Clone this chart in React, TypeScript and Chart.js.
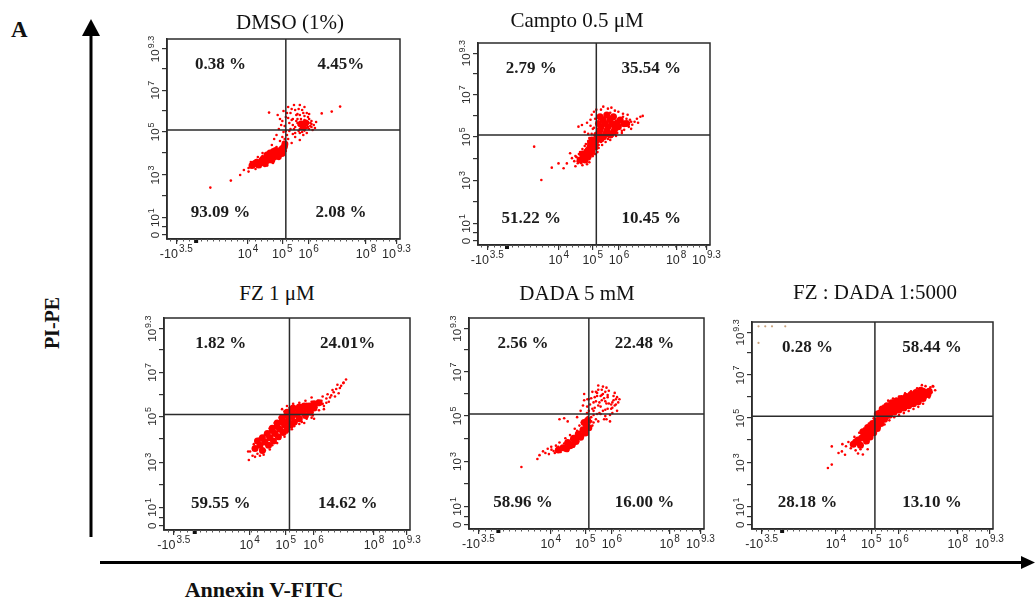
import React, { useEffect, useRef } from "react";
import { Chart, registerables } from "chart.js";
Chart.register(...registerables);

type Pt = [number, number];

// Axis ticks, in display channel units (0–100 across each plot box)
const xTickValues = [4, 34.8, 49.5, 60.8, 85.4, 98.5];
const xTickLabels = ["-10^3.5", "10^4", "10^5", "10^6", "10^8", "10^9.3"];
const yTickValues = [2, 10.7, 32, 53.6, 74.4, 95];
const yTickLabels = ["0", "10^1", "10^3", "10^5", "10^7", "10^9.3"];
const yMinorTickValues = [6, 21.5, 43, 64, 85];
const gateX = 51;
const gateY = 54.5;

const panelTitles = ["DMSO (1%)", "Campto 0.5 μM", "FZ 1 μM", "DADA 5 mM", "FZ : DADA 1:5000"];

// Quadrant percentages: upper-left, upper-right, lower-left, lower-right
const dmsoPercents = ["0.38 %", "4.45%", "93.09 %", "2.08 %"];
const camptoPercents = ["2.79 %", "35.54 %", "51.22 %", "10.45 %"];
const fzPercents = ["1.82 %", "24.01%", "59.55 %", "14.62 %"];
const dadaPercents = ["2.56 %", "22.48 %", "58.96 %", "16.00 %"];
const comboPercents = ["0.28 %", "58.44 %", "28.18 %", "13.10 %"];

// Events (Annexin V-FITC channel, PI-PE channel); "core" = densest part of each cloud
const dmsoCore: Pt[] = [
  [37.8, 37.8], [39.3, 37], [40.7, 39.2], [42.1, 37.8], [43.6, 40.8], [45, 39.5], [46.4, 42.5], [47.8, 41.2],
  [48.6, 44.2], [49.3, 42.8], [50.4, 46.2], [42.9, 42], [45.7, 43.7], [36.5, 36.8], [41.5, 38.5], [44.2, 41.5],
  [47.2, 43], [49.8, 44.8], [38.5, 38.4], [40, 38], [41.2, 40], [42.8, 39.3], [44.3, 39.8], [45.8, 41.8],
  [47, 41.9], [48, 43.2], [49.5, 45.3], [46.6, 44.3], [44.2, 43], [50.6, 47.5],
  [57.5, 57.5], [59.5, 58], [58.5, 56],
];
const dmsoEvents: Pt[] = [
  [18.6, 25.7], [27.4, 29.2], [31.4, 32], [35, 33.7], [36, 36], [35, 35.5], [37, 38.5], [38.5, 39.5], [41, 41.5],
  [42, 36.5], [44, 38.5], [46.5, 40], [45, 47], [46, 50], [47, 46], [47, 52], [48.5, 49], [49.5, 51], [50, 48.5],
  [50.5, 50], [51.5, 52], [50, 53.5], [52, 50], [53.5, 48], [55, 51], [57, 49.5], [58.5, 52], [54, 52.5],
  [47.5, 62], [48.5, 60], [49, 57], [50, 64], [51, 61], [52, 66], [52.5, 58], [53, 63], [54, 60], [54.5, 67],
  [55, 56], [55.5, 62], [56, 58], [56.5, 65], [57, 55], [57.5, 60], [58, 57], [58.5, 63], [59, 55.5], [59.5, 59],
  [60, 57], [60.5, 61], [61, 55], [61.5, 58], [62, 56], [62.5, 54.5], [63, 57], [57, 67], [59, 66], [53, 55],
  [51, 54], [48, 55], [55, 53], [58, 53.5], [60, 53], [56, 60], [54, 57], [57, 62], [59, 61.5], [61, 60],
  [58, 58.5], [59.5, 57], [60.5, 58.5], [57.5, 56.5], [59, 59.5], [61.5, 56.5], [56.5, 57], [60, 55.5],
  [43.8, 63.2], [66.4, 62.8], [70.7, 63.7], [74.3, 66.2],
  [49.5, 59], [50.5, 56.5], [52, 60.5], [53.5, 65], [55, 64.5], [56, 62.5], [58, 64.5], [60, 63], [62, 59],
  [63.5, 55.5], [64, 58.5], [61, 62.5], [52.5, 54], [54.5, 55], [56.5, 54], [58.5, 55.5], [55.5, 59], [53.5, 59.5],
  [51.5, 63], [57.5, 58.5], [60.5, 56], [62, 57.5], [59, 54.2], [57, 53], [38, 35], [40, 36], [43, 36.8],
  [45.5, 38], [48, 40], [50, 42], [51, 44], [39, 41], [41, 43], [36, 38.5], [33, 34.5],
];

const camptoCore: Pt[] = [
  [52.6, 63.5], [55.5, 64.4], [58.4, 63.5], [61.3, 61.9], [64.1, 60.2], [51.9, 60.2], [54.8, 60.2], [57.7, 59.9],
  [60.5, 58.6], [52.6, 56.9], [55.5, 56.6], [58.4, 56.1], [51.2, 54.5], [54.1, 53.6], [51.2, 52], [49.1, 52],
  [48.3, 48.7], [49.8, 48.7], [46.9, 46.2], [49.1, 46.2], [45.5, 43.7], [47.6, 44.1], [44, 42.1], [46.2, 42.1],
  [50.5, 50.3], [54, 62], [57, 62], [60, 60.5], [63, 60], [53, 58.5], [56, 58.5], [59, 57.5], [52, 55], [55, 55],
  [57, 54.5], [53, 52.5], [50, 50], [48.5, 50.5], [47.5, 47], [46, 44.5], [45, 45], [48, 45.5], [50.5, 48.5],
];
const camptoEvents: Pt[] = [
  [24.2, 48.7], [27.3, 32.2], [31.8, 38.3], [34.7, 40.4], [36.9, 38], [38.3, 40.4], [39.7, 45.4], [43.3, 58.6],
  [44.8, 59.4], [65.5, 62], [66.5, 59.5], [67.5, 61], [68.5, 62.5], [70, 63.5], [71, 63.9], [66, 57.5], [63, 57],
  [69, 60.5], [50, 66], [53, 67], [56, 67.5], [59, 66.5], [48.5, 62], [47, 60.5], [46, 56], [47.5, 55],
  [49.5, 57.5], [56, 52.5], [58, 54], [60, 55.5], [62, 56.5], [53, 51], [52, 49.5], [50.5, 45], [48, 41],
  [43, 40.5], [41.5, 41.5], [45, 39.5], [42.5, 43.5], [44, 46], [46, 49], [47.5, 51.5], [62.5, 63.5], [64, 62.5],
  [57, 65.5], [50.5, 62.5], [53.5, 61], [63, 59], [40.5, 43], [42, 39],
  [49, 64.5], [51, 67], [54, 68.5], [57.5, 68], [60.5, 66], [62.5, 65], [64.5, 64.5], [66, 61], [65, 58.5],
  [62, 55.5], [59.5, 54], [57, 52], [55, 51], [53.5, 49.5], [52, 48], [51.5, 46], [49.5, 44], [48, 42.5],
  [47, 40], [44.5, 40.5], [43, 41.5], [42, 44], [43.5, 45], [45, 47.5], [46.5, 50], [48, 53], [49, 55], [50, 58],
  [48.5, 59],
];

const fzCore: Pt[] = [
  [37, 38.5], [39, 40], [40, 37.5], [41, 41.5], [42.5, 40], [43, 43.5], [44.5, 42], [45, 45.5], [46.5, 44],
  [47, 47.5], [48.5, 46], [49, 49.5], [50, 47.5], [50.5, 51.5], [51.5, 49.5], [52, 53.5], [53, 51], [54, 54.5],
  [55, 52.5], [56, 55.5], [57.5, 54], [58, 57], [59.5, 55.5], [61, 57.5], [48, 51], [46, 49], [44, 47], [52, 56],
  [50, 54], [54.5, 57], [38, 42], [40, 43.5], [42, 45.5], [44, 48], [46, 50.5], [48, 53], [50, 55.5],
  [52.5, 57.5], [55, 58], [57, 58.5], [59, 58.5], [61, 59.5], [63, 60],
];
const fzEvents: Pt[] = [
  [63, 59], [64, 61], [65, 58.5], [66, 62], [67, 60.5], [68, 63.5], [69, 65], [70, 66.5], [71, 64.5], [72, 68],
  [73, 69.5], [74, 71], [70.5, 68.5], [68.5, 66], [66.5, 64], [64.5, 63], [62.5, 61], [60, 60.5], [58, 59.5],
  [56, 58.5], [53, 58], [51, 57.5], [49, 56], [47, 53], [45, 50.5], [43, 48], [41, 45], [38.5, 43], [36.5, 40.5],
  [35, 37], [34.5, 33], [36, 35], [38, 36], [40.5, 35.5], [43, 38], [46, 41], [49, 44], [52, 47.5], [55, 50],
  [58, 52.5], [60.5, 54], [63, 56.5], [61, 52.5], [65, 57], [57, 50.5], [34.2, 37], [72.9, 69.3], [71.5, 67],
  [69.5, 63], [67.5, 62.5],
  [48, 57], [50, 58.5], [52.5, 59.5], [55, 60], [57.5, 61], [60, 62.5], [62, 58], [64.5, 59.5], [66, 60], [60, 53],
  [56, 51], [53, 49], [50, 46], [47, 43], [44, 40], [41, 37.5], [39, 35], [37, 34.5], [42, 44], [40, 42],
];

const dadaCore: Pt[] = [
  [40, 38.5], [42, 41], [43, 39.5], [44.5, 43], [45.5, 41.5], [46.5, 45], [47.5, 43.5], [48.5, 47], [49.5, 45.5],
  [50, 49], [51, 48], [38, 37.5], [41.5, 38], [44, 40], [50.5, 51.5], [49, 50.5],
];
const dadaEvents: Pt[] = [
  [22.3, 29.4], [29.1, 33.2], [31.5, 36.8], [35.1, 37.6], [30, 35], [32.5, 36], [34, 35.5], [36, 37], [37, 39.5],
  [39, 36.5], [41, 43], [43, 44.5], [45, 47.5], [47, 49], [46, 46.5], [48, 50.5], [42, 37], [44.5, 39], [46.5, 41.5],
  [48.5, 44], [49.5, 46.5], [50.5, 47], [51.5, 50.5], [52.5, 49], [40.5, 40.5], [38.5, 41], [35, 39], [43, 41.5],
  [33.5, 38], [38.5, 52], [40.5, 52.5], [42, 51], [46, 53], [47.5, 56], [48.5, 58.5], [49, 61], [49, 64],
  [50.5, 53], [51, 56], [51.5, 59], [52, 62], [52.5, 65], [53, 54], [53.5, 57.5], [54, 60.5], [54.5, 63], [55, 66],
  [55.5, 55], [56, 58], [56.5, 61], [57, 64], [57.5, 52], [58, 56.5], [58.5, 59.5], [59, 62.5], [59.5, 65.5],
  [60, 54], [60.5, 57], [61, 60], [61.5, 63], [62, 58.5], [62.5, 61.5], [63, 56], [63.5, 60], [57, 67.5], [55, 68],
  [53, 50.5], [55, 51], [60, 51], [58, 53.5], [56, 54.5], [54, 52], [52.5, 57], [57.5, 62], [59.5, 59.5], [61, 55],
  [55.5, 60], [53.5, 62.5], [64, 61.5], [58, 65], [56.5, 63.5], [54.5, 64.5], [58.5, 67],
  [51, 61.5], [52, 53], [53, 60], [54, 65], [55, 58.5], [56, 63], [56.5, 66], [58, 60.5], [59, 63.5], [60.5, 59],
  [61.5, 61], [62, 64.5], [63, 62.5], [59, 57], [57, 56], [54.5, 54.5], [52, 51], [50.2, 55], [50.3, 58],
  [50.4, 61.5], [53, 56], [58.5, 52], [61, 57.5], [62.5, 59], [36.5, 36], [38, 39], [39.5, 38], [41, 39.5],
  [43.5, 42.5], [45, 44], [47, 46], [49, 48], [51, 49], [42.5, 40], [44, 42], [46, 43], [48, 45],
];

const comboCore: Pt[] = [
  [42, 41], [44, 43], [45, 40.5], [46.5, 45], [47.5, 42.5], [48.5, 47], [49, 44.5], [50, 49.5], [50.5, 46.5],
  [51.5, 52], [52, 48.5], [53, 54], [53.5, 51], [54.5, 56], [55, 53], [56.5, 57.5], [57, 55], [58.5, 59], [59, 56.5],
  [60.5, 60], [61, 57.5], [62.5, 61], [63, 58.5], [64.5, 62], [65, 59.5], [66.5, 63], [67, 60.5], [68.5, 64],
  [69, 61.5], [70.5, 65], [71, 63], [72.5, 66], [56, 59.5], [54, 58], [52, 55.5], [58, 61], [60, 62], [62, 63],
  [64, 64], [66, 65], [68, 66], [70, 67], [73, 65], [48, 49], [50, 51], [46, 47],
  [43, 42], [45.5, 44], [47.5, 46], [49.5, 48], [51.5, 50], [53.5, 52.5], [55.5, 54.5], [57.5, 56.5], [59.5, 58.5],
  [61.5, 59.5], [63.5, 60.5], [65.5, 61.5], [67.5, 62.5], [69.5, 63.5], [71.5, 64.5], [73.5, 66.5], [55, 57],
  [57, 59], [59, 60.5], [61, 61.5], [63, 62.5], [65, 63.5], [67, 64.5], [69, 65.5], [71, 66.5],
];
const comboEvents: Pt[] = [
  [74, 68.5], [75, 69], [74.5, 66], [72, 69], [73.5, 63.5], [76, 67], [71, 60.5], [69, 59], [67, 58], [65, 57],
  [63, 56], [61, 55], [59, 54], [57, 52.5], [55, 50.5], [53, 49], [51, 46.5], [49, 44], [47, 41.5], [45, 38.5],
  [43, 38], [41, 39], [40, 42], [42.5, 44.5], [44.5, 46.5], [46.5, 48.5], [48.5, 51], [50.5, 53.5], [52.5, 57],
  [54.5, 59.5], [56.5, 62], [58.5, 63], [61, 64], [63.5, 65.5], [66, 66.5], [68.5, 68], [70.5, 69.5], [44, 36.5],
  [46, 36], [48, 38.5], [39, 40], [37.5, 41], [33.1, 39.9], [37.3, 37.5], [38.6, 35.9], [31.5, 29.5], [33.1, 31.1],
  [35.9, 36.7], [75.2, 68.9],
];
const comboDebris: Pt[] = [[2.7, 97.9], [5.5, 97.9], [8.3, 97.9], [13.8, 97.9], [2.7, 89.9]];

// ---------- layout (pixels) ----------
const PAD_L = 32;
const PAD_T = 10;
const PAD_R = 24;
const PAD_B = 30;
const TICK = 5;

interface PanelCfg {
  box: [number, number, number, number];
  titlePos: [number, number];
  title: string;
  percents: string[];
  core: Pt[];
  events: Pt[];
  debris?: Pt[];
}

const panels: PanelCfg[] = [
  { box: [167, 39, 233, 200], titlePos: [290, 23], title: panelTitles[0], percents: dmsoPercents, core: dmsoCore, events: dmsoEvents },
  { box: [478, 43, 232, 202], titlePos: [577, 21], title: panelTitles[1], percents: camptoPercents, core: camptoCore, events: camptoEvents },
  { box: [164, 318, 246, 212], titlePos: [277, 294], title: panelTitles[2], percents: fzPercents, core: fzCore, events: fzEvents },
  { box: [469, 318, 235, 211], titlePos: [577, 294], title: panelTitles[3], percents: dadaPercents, core: dadaCore, events: dadaEvents },
  { box: [752, 322, 241, 207], titlePos: [875, 293], title: panelTitles[4], percents: comboPercents, core: comboCore, events: comboEvents, debris: comboDebris },
];

function drawPow(ctx: CanvasRenderingContext2D, label: string, base: number) {
  // draws label centred at (0,0) with digits vertically centred on 0
  const parts = label.split("^");
  const baseFont = `${base}px "Liberation Sans", Arial, sans-serif`;
  const supFont = `${Math.round(base * 0.82)}px "Liberation Sans", Arial, sans-serif`;
  ctx.font = baseFont;
  const w1 = ctx.measureText(parts[0]).width;
  let w2 = 0;
  if (parts[1]) {
    ctx.font = supFont;
    w2 = ctx.measureText(parts[1]).width + 1;
  }
  const start = -(w1 + w2) / 2;
  const baseline = base * 0.36;
  ctx.textAlign = "left";
  ctx.textBaseline = "alphabetic";
  ctx.font = baseFont;
  ctx.fillText(parts[0], start, baseline);
  if (parts[1]) {
    ctx.font = supFont;
    ctx.fillText(parts[1], start + w1 + 1, baseline - base * 0.42);
  }
}

function makePlugin(cfg: PanelCfg) {
  return {
    id: "facsDecor",
    afterDatasetsDraw(chart: any) {
      const { ctx, chartArea: a, scales } = chart;
      const xs = scales.x;
      const ys = scales.y;
      ctx.save();
      ctx.strokeStyle = "#2b2b2b";
      ctx.lineWidth = 1.5;
      ctx.strokeRect(a.left, a.top, a.right - a.left, a.bottom - a.top);
      const gx = xs.getPixelForValue(gateX);
      const gy = ys.getPixelForValue(gateY);
      ctx.beginPath();
      ctx.moveTo(gx, a.top);
      ctx.lineTo(gx, a.bottom);
      ctx.moveTo(a.left, gy);
      ctx.lineTo(a.right, gy);
      ctx.stroke();

      // small ticks along the x axis
      ctx.lineWidth = 1;
      ctx.strokeStyle = "#555";
      ctx.beginPath();
      for (let v = 1.5; v < 100; v += 2.6) {
        const px = Math.round(xs.getPixelForValue(v)) + 0.5;
        ctx.moveTo(px, a.bottom);
        ctx.lineTo(px, a.bottom + 2.5);
      }
      ctx.stroke();
      const mk = xs.getPixelForValue(12.5);
      ctx.fillStyle = "#111";
      ctx.fillRect(mk - 2, a.bottom + 1, 4, 3);

      // tick labels
      ctx.fillStyle = "#2a2a2a";
      xTickValues.forEach((v, i) => {
        ctx.save();
        ctx.translate(xs.getPixelForValue(v), a.bottom + 14);
        drawPow(ctx, xTickLabels[i], 12.5);
        ctx.restore();
      });
      yTickValues.forEach((v, i) => {
        ctx.save();
        ctx.translate(a.left - 12.5, ys.getPixelForValue(v));
        ctx.rotate(-Math.PI / 2);
        drawPow(ctx, yTickLabels[i], 11.5);
        ctx.restore();
      });

      // quadrant percentages
      ctx.font = 'bold 17px "Liberation Serif", "Times New Roman", serif';
      ctx.fillStyle = "#1c1c1c";
      ctx.textAlign = "center";
      ctx.textBaseline = "alphabetic";
      const lx = (a.left + gx) / 2 - 6;
      const rx = (gx + a.right) / 2 - 2;
      const ty = a.top + 24 + 5.8;
      const by = a.bottom - 28 + 5.8;
      ctx.fillText(cfg.percents[0], lx, ty);
      ctx.fillText(cfg.percents[1], rx, ty);
      ctx.fillText(cfg.percents[2], lx, by);
      ctx.fillText(cfg.percents[3], rx, by);
      ctx.restore();
    },
  };
}

function FacsPanel({ cfg }: { cfg: PanelCfg }) {
  const ref = useRef<HTMLCanvasElement>(null);
  const [bl, bt, bw, bh] = cfg.box;
  const W = PAD_L + TICK + bw + PAD_R;
  const H = PAD_T + bh + TICK + PAD_B;
  useEffect(() => {
    if (!ref.current) return;
    const toXY = (p: Pt) => ({ x: p[0], y: p[1] });
    const datasets: any[] = [
      { data: cfg.events.map(toXY), pointRadius: 1.3, backgroundColor: "#ff0000", pointBorderWidth: 0, borderWidth: 0, pointHoverRadius: 0 },
      { data: cfg.core.map(toXY), pointRadius: 3.5, backgroundColor: "#ff0000", pointBorderWidth: 0, borderWidth: 0, pointHoverRadius: 0 },
    ];
    if (cfg.debris) {
      datasets.push({ data: cfg.debris.map(toXY), pointRadius: 1.1, backgroundColor: "#c9a27c", pointBorderWidth: 0, borderWidth: 0, pointHoverRadius: 0 });
    }
    const axisCommon = {
      type: "linear" as const,
      min: 0,
      max: 100,
      grid: { drawOnChartArea: false, drawTicks: true, tickLength: TICK, color: "#333", lineWidth: 1.2 },
      border: { display: true, color: "#2b2b2b", width: 1.5 },
      ticks: { display: false },
    };
    const chart = new Chart(ref.current, {
      type: "scatter",
      data: { datasets },
      options: {
        responsive: false,
        maintainAspectRatio: false,
        animation: false,
        events: [],
        layout: { padding: { left: PAD_L, top: PAD_T, right: PAD_R, bottom: PAD_B } },
        plugins: { legend: { display: false }, tooltip: { enabled: false }, title: { display: false } },
        scales: {
          x: {
            ...axisCommon,
            afterBuildTicks: (axis: any) => {
              axis.ticks = xTickValues.map((v) => ({ value: v }));
            },
          },
          y: {
            ...axisCommon,
            afterBuildTicks: (axis: any) => {
              axis.ticks = [...yTickValues, ...yMinorTickValues].sort((p, q) => p - q).map((v) => ({ value: v }));
            },
          },
        },
      } as any,
      plugins: [makePlugin(cfg)],
    });
    return () => chart.destroy();
  }, []);
  return (
    <>
      <canvas
        ref={ref}
        width={W}
        height={H}
        style={{ position: "absolute", left: bl - PAD_L - TICK, top: bt - PAD_T, width: W, height: H }}
      />
      <div
        style={{
          position: "absolute",
          left: cfg.titlePos[0] - 150,
          top: cfg.titlePos[1] - 11,
          width: 300,
          textAlign: "center",
          font: '21px "Liberation Serif", "Times New Roman", serif',
          lineHeight: "21px",
          color: "#111",
          whiteSpace: "nowrap",
        }}
      >
        {cfg.title}
      </div>
    </>
  );
}

export default function App() {
  return (
    <div style={{ position: "absolute", left: 0, top: 0, width: 1035, height: 604, background: "#fff", overflow: "hidden" }}>
      <svg width={1035} height={604} style={{ position: "absolute", left: 0, top: 0 }}>
        <line x1={91} y1={537} x2={91} y2={32} stroke="#000" strokeWidth={3} />
        <polygon points="91,19 82,36 100,36" fill="#000" />
        <line x1={100} y1={562.5} x2={1024} y2={562.5} stroke="#000" strokeWidth={3} />
        <polygon points="1035,562.5 1021,556 1021,569" fill="#000" />
      </svg>
      <div style={{ position: "absolute", left: 11, top: 18, font: 'bold 23px "Liberation Serif", "Times New Roman", serif', lineHeight: "23px", color: "#111" }}>A</div>
      <div
        style={{
          position: "absolute",
          left: 52 - 60,
          top: 323 - 11,
          width: 120,
          textAlign: "center",
          font: 'bold 20px "Liberation Serif", "Times New Roman", serif',
          lineHeight: "22px",
          transform: "rotate(-90deg)",
          color: "#111",
        }}
      >
        PI-PE
      </div>
      <div
        style={{
          position: "absolute",
          left: 264 - 150,
          top: 591 - 12,
          width: 300,
          textAlign: "center",
          font: 'bold 22px "Liberation Serif", "Times New Roman", serif',
          lineHeight: "22px",
          color: "#111",
        }}
      >
        Annexin V-FITC
      </div>
      {panels.map((p, i) => (
        <FacsPanel key={i} cfg={p} />
      ))}
    </div>
  );
}
